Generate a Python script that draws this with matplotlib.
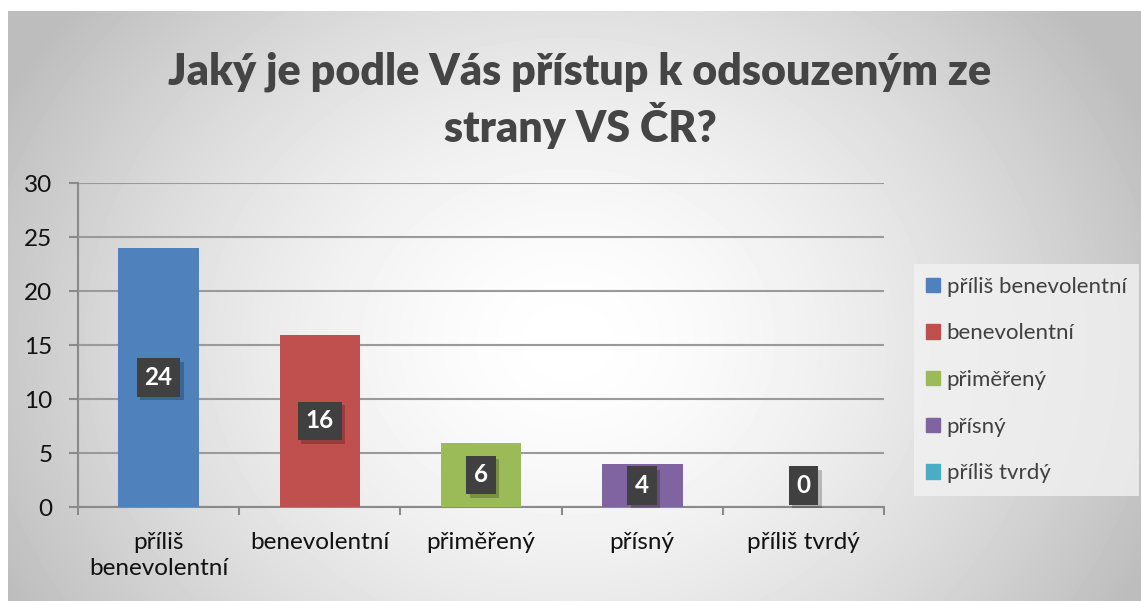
import matplotlib.pyplot as plt
import matplotlib.patheffects as pe
import numpy as np

# survey answers: attitude of the prison service towards convicts
categories = ["příliš benevolentní", "benevolentní", "přiměřený", "přísný", "příliš tvrdý"]
tick_labels = ["příliš\nbenevolentní", "benevolentní", "přiměřený", "přísný", "příliš tvrdý"]
counts = [24, 16, 6, 4, 0]
colors = ["#4F81BD", "#C0504D", "#9BBB59", "#8064A2", "#4BACC6"]

title = "Jaký je podle Vás přístup k odsouzeným ze\nstrany VS ČR?"

plt.rcParams['font.family'] = ['Lato', 'DejaVu Sans']

W, H = 1141, 601
fig = plt.figure(figsize=(W / 100, H / 100), dpi=100)
fig.patch.set_facecolor("white")

# radial gray background (chart area starts a few px in from top/left)
bg = fig.add_axes([8 / W, 0, 1 - 8 / W, 1 - 11 / H], zorder=0)
yy, xx = np.mgrid[0:590, 0:1133]
r = np.sqrt(((xx - 560) / 620) ** 2 + ((yy - 330) / 520) ** 2)
shade = np.clip(1 - 0.25 * r ** 1.6, 0.74, 1)
bg.imshow(shade, cmap="gray", vmin=0, vmax=1, aspect="auto", interpolation="bilinear")
bg.axis("off")

ax = fig.add_axes([78 / W, (H - 507.3) / H, 806 / W, 324 / H], zorder=1)
ax.patch.set_alpha(0)

x = np.arange(len(categories)) + 0.5
bars = ax.bar(x, counts, width=0.5, color=colors, zorder=3)

ax.set_xlim(0, len(categories))
ax.set_ylim(0, 30)
ax.set_yticks(range(0, 31, 5))
ax.grid(axis="y", color="#9a9a9a", linewidth=1.5, zorder=0)
ax.set_axisbelow(True)

ax.set_xticks(range(len(categories) + 1))
ax.set_xticklabels([])
ax.set_xticks(x, minor=True)
ax.set_xticklabels(tick_labels, minor=True, fontsize=17.5, color="#111111",
                   linespacing=1.3)
ax.tick_params(axis="x", which="minor", length=0, pad=18)
ax.tick_params(axis="x", which="major", length=6, width=1.5, color="#8a8a8a")
ax.tick_params(axis="y", length=6.5, width=1.5, color="#8a8a8a", labelsize=17.5,
               labelcolor="#111111", pad=12)

for s in ["top", "right"]:
    ax.spines[s].set_visible(False)
for s in ["left", "bottom"]:
    ax.spines[s].set_color("#8a8a8a")
    ax.spines[s].set_linewidth(1.5)

# data labels in dark boxes with a soft shadow
for xi, v in zip(x, counts):
    ypos = max(v / 2, 2)
    t = ax.annotate(str(v), (xi, ypos), ha="center", va="center", fontsize=17.5,
                    fontweight="bold", color="white",
                    bbox=dict(boxstyle="square,pad=0.32", fc="#404040", ec="none"),
                    zorder=5)
    t.get_bbox_patch().set_path_effects([
        pe.SimplePatchShadow(offset=(2.5, -2.5), shadow_rgbFace="black", alpha=0.22),
        pe.Normal()])

fig.text(580 / W, 1 - 100 / H, title, ha="center", va="center", fontsize=31,
         fontweight="heavy", color="#454545", linespacing=1.25)

handles = [plt.Rectangle((0, 0), 1, 1, color=c) for c in colors]
leg = fig.legend(handles, categories, loc="center left",
                 bbox_to_anchor=(903 / W, 1 - 380 / H), fontsize=16,
                 frameon=True, fancybox=False, handlelength=0.62, handleheight=0.62,
                 handletextpad=0.3, labelspacing=1.2, borderpad=0.55,
                 labelcolor="#404040")
leg.get_frame().set_facecolor("#f2f2f2")
leg.get_frame().set_edgecolor("none")
leg.get_frame().set_alpha(0.8)

fig.savefig("out.png", dpi=100)
